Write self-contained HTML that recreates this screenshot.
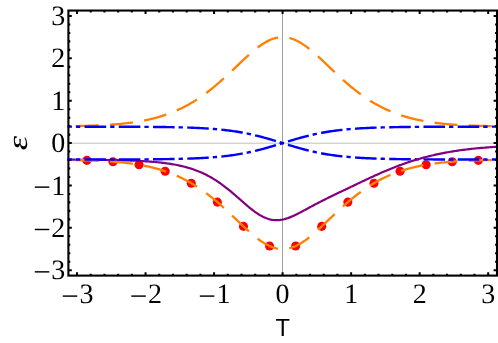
<!DOCTYPE html><html><head><meta charset="utf-8"><style>html,body{margin:0;padding:0;background:#fff;}body{width:498px;height:343px;overflow:hidden;position:relative;font-family:"Liberation Sans",sans-serif;}</style></head><body>
<svg width="498" height="343" viewBox="0 0 498 343" style="position:absolute;left:0;top:0">
<rect width="498" height="343" fill="#fff"/>
<clipPath id="c"><rect x="68.4" y="10.55" width="428.6" height="265.05"/></clipPath>
<g clip-path="url(#c)" fill="none">
<circle cx="269.55" cy="246.01" r="4.55" fill="#ff0000"/>
<circle cx="295.65" cy="246.01" r="4.55" fill="#ff0000"/>
<circle cx="243.46" cy="226.38" r="4.55" fill="#ff0000"/>
<circle cx="321.74" cy="226.38" r="4.55" fill="#ff0000"/>
<circle cx="217.36" cy="202.11" r="4.55" fill="#ff0000"/>
<circle cx="347.84" cy="202.11" r="4.55" fill="#ff0000"/>
<circle cx="191.26" cy="183.19" r="4.55" fill="#ff0000"/>
<circle cx="373.94" cy="183.19" r="4.55" fill="#ff0000"/>
<circle cx="165.17" cy="171.26" r="4.55" fill="#ff0000"/>
<circle cx="400.03" cy="171.26" r="4.55" fill="#ff0000"/>
<circle cx="139.07" cy="164.77" r="4.55" fill="#ff0000"/>
<circle cx="426.13" cy="164.77" r="4.55" fill="#ff0000"/>
<circle cx="112.97" cy="161.69" r="4.55" fill="#ff0000"/>
<circle cx="452.23" cy="161.69" r="4.55" fill="#ff0000"/>
<circle cx="86.88" cy="160.38" r="4.55" fill="#ff0000"/>
<circle cx="478.32" cy="160.38" r="4.55" fill="#ff0000"/>
<path d="M68.40,159.69 L69.69,159.70 L70.98,159.71 L72.27,159.71 L73.56,159.72 L74.86,159.72 L76.15,159.73 L77.44,159.74 L78.73,159.74 L80.02,159.75 L81.31,159.76 L82.60,159.77 L83.89,159.77 L85.18,159.78 L86.47,159.79 L87.77,159.80 L89.06,159.81 L90.35,159.82 L91.64,159.83 L92.93,159.84 L94.22,159.86 L95.51,159.87 L96.80,159.88 L98.09,159.90 L99.38,159.91 L100.68,159.92 L101.97,159.94 L103.26,159.96 L104.55,159.97 L105.84,159.99 L107.13,160.01 L108.42,160.03 L109.71,160.05 L111.00,160.07 L112.29,160.10 L113.59,160.12 L114.88,160.15 L116.17,160.17 L117.46,160.20 L118.75,160.23 L120.04,160.26 L121.33,160.29 L122.62,160.32 L123.91,160.36 L125.20,160.40 L126.50,160.44 L127.79,160.48 L129.08,160.52 L130.37,160.56 L131.66,160.61 L132.95,160.66 L134.24,160.71 L135.53,160.77 L136.82,160.82 L138.11,160.88 L139.41,160.95 L140.70,161.01 L141.99,161.08 L143.28,161.16 L144.57,161.23 L145.86,161.31 L147.15,161.40 L148.44,161.49 L149.73,161.58 L151.02,161.68 L152.32,161.78 L153.61,161.89 L154.90,162.00 L156.19,162.12 L157.48,162.24 L158.77,162.37 L160.06,162.51 L161.35,162.65 L162.64,162.80 L163.93,162.96 L165.23,163.13 L166.52,163.30 L167.81,163.48 L169.10,163.67 L170.39,163.87 L171.68,164.08 L172.97,164.30 L174.26,164.53 L175.55,164.76 L176.84,165.01 L178.14,165.28 L179.43,165.55 L180.72,165.84 L182.01,166.14 L183.30,166.45 L184.59,166.77 L185.88,167.12 L187.17,167.47 L188.46,167.84 L189.75,168.23 L191.05,168.64 L192.34,169.06 L193.63,169.50 L194.92,169.95 L196.21,170.43 L197.50,170.93 L198.79,171.44 L200.08,171.98 L201.37,172.54 L202.66,173.12 L203.96,173.72 L205.25,174.34 L206.54,174.98 L207.83,175.65 L209.12,176.35 L210.41,177.06 L211.70,177.80 L212.99,178.57 L214.28,179.35 L215.57,180.17 L216.87,181.00 L218.16,181.86 L219.45,182.75 L220.74,183.66 L222.03,184.59 L223.32,185.54 L224.61,186.52 L225.90,187.52 L227.19,188.54 L228.48,189.57 L229.78,190.63 L231.07,191.70 L232.36,192.79 L233.65,193.89 L234.94,195.00 L236.23,196.12 L237.52,197.25 L238.81,198.39 L240.10,199.52 L241.39,200.66 L242.69,201.79 L243.98,202.92 L245.27,204.04 L246.56,205.15 L247.85,206.24 L249.14,207.32 L250.43,208.37 L251.72,209.40 L253.01,210.39 L254.30,211.36 L255.60,212.29 L256.89,213.18 L258.18,214.03 L259.47,214.83 L260.76,215.59 L262.05,216.29 L263.34,216.95 L264.63,217.54 L265.92,218.08 L267.21,218.56 L268.51,218.98 L269.80,219.34 L271.09,219.63 L272.38,219.86 L273.67,220.03 L274.96,220.14 L276.25,220.18 L277.54,220.17 L278.83,220.09 L280.12,219.96 L281.42,219.77 L282.71,219.53 L284.00,219.24 L285.29,218.90 L286.58,218.51 L287.87,218.09 L289.16,217.62 L290.45,217.12 L291.74,216.58 L293.03,216.02 L294.33,215.43 L295.62,214.82 L296.91,214.18 L298.20,213.53 L299.49,212.87 L300.78,212.19 L302.07,211.51 L303.36,210.82 L304.65,210.12 L305.94,209.42 L307.24,208.72 L308.53,208.02 L309.82,207.32 L311.11,206.62 L312.40,205.93 L313.69,205.24 L314.98,204.55 L316.27,203.87 L317.56,203.20 L318.85,202.53 L320.15,201.86 L321.44,201.20 L322.73,200.55 L324.02,199.90 L325.31,199.26 L326.60,198.61 L327.89,197.98 L329.18,197.34 L330.47,196.72 L331.76,196.09 L333.06,195.46 L334.35,194.84 L335.64,194.22 L336.93,193.60 L338.22,192.98 L339.51,192.36 L340.80,191.75 L342.09,191.13 L343.38,190.51 L344.67,189.90 L345.97,189.28 L347.26,188.66 L348.55,188.05 L349.84,187.43 L351.13,186.81" stroke="#800080" stroke-width="2.2"/>
<path d="M68.40,159.97 L69.83,159.99 L71.27,160.01 L72.70,160.04 L74.13,160.07 L75.57,160.10 L77.00,160.13 L78.43,160.16 L79.87,160.19 L81.30,160.23 L82.73,160.26 L84.17,160.30 L85.60,160.34 L87.03,160.39 L88.47,160.43 L89.90,160.48 L91.34,160.53 L92.77,160.58 L94.20,160.64 L95.64,160.70 L97.07,160.76 L98.50,160.82 L99.94,160.89 L101.37,160.96 L102.80,161.04 L104.24,161.12 L105.67,161.20 L107.10,161.29 L108.54,161.38 L109.97,161.47 L111.40,161.58 L112.84,161.68 L114.27,161.79 L115.70,161.91 L117.14,162.03 L118.57,162.16 L120.00,162.29 L121.44,162.43 L122.87,162.58 L124.30,162.73 L125.74,162.89 L127.17,163.06 L128.60,163.23 L130.04,163.42 L131.47,163.61 L132.91,163.81 L134.34,164.02 L135.77,164.24 L137.21,164.46 L138.64,164.70 L140.07,164.95 L141.51,165.20 L142.94,165.47 L144.37,165.75 L145.81,166.04 L147.24,166.34 L148.67,166.66 L150.11,166.99 L151.54,167.33 L152.97,167.68 L154.41,168.05 L155.84,168.43 L157.27,168.82 L158.71,169.23 L160.14,169.65 L161.57,170.09 L163.01,170.55 L164.44,171.02 L165.87,171.50 L167.31,172.01 L168.74,172.53 L170.17,173.06 L171.61,173.62 L173.04,174.19 L174.47,174.79 L175.91,175.40 L177.34,176.03 L178.78,176.67 L180.21,177.34 L181.64,178.03 L183.08,178.74 L184.51,179.47 L185.94,180.22 L187.38,180.99 L188.81,181.78 L190.24,182.60 L191.68,183.43 L193.11,184.29 L194.54,185.17 L195.98,186.07 L197.41,186.99 L198.84,187.94 L200.28,188.90 L201.71,189.89 L203.14,190.91 L204.58,191.94 L206.01,193.00 L207.44,194.08 L208.88,195.18 L210.31,196.30 L211.74,197.44 L213.18,198.60 L214.61,199.79 L216.04,200.99 L217.48,202.21 L218.91,203.45 L220.35,204.71 L221.78,205.99 L223.21,207.28 L224.65,208.58 L226.08,209.90 L227.51,211.23 L228.95,212.57 L230.38,213.92 L231.81,215.28 L233.25,216.65 L234.68,218.02 L236.11,219.39 L237.55,220.77 L238.98,222.14 L240.41,223.50 L241.85,224.87 L243.28,226.22 L244.71,227.56 L246.15,228.89 L247.58,230.20 L249.01,231.49 L250.45,232.75 L251.88,234.00 L253.31,235.21 L254.75,236.39 L256.18,237.54 L257.61,238.65 L259.05,239.71 L260.48,240.74 L261.92,241.72 L263.35,242.64 L264.78,243.52 L266.22,244.33 L267.65,245.09 L269.08,245.79 L270.52,246.43 L271.95,247.00 L273.38,247.50 L274.82,247.93 L276.25,248.30 L277.68,248.59 L279.12,248.80 L280.55,248.95 L281.98,249.02 L283.42,249.01 L284.85,248.93 L286.28,248.78 L287.72,248.55 L289.15,248.25 L290.58,247.88 L292.02,247.43 L293.45,246.92 L294.88,246.34 L296.32,245.70 L297.75,244.99 L299.18,244.22 L300.62,243.40 L302.05,242.52 L303.48,241.58 L304.92,240.60 L306.35,239.57 L307.79,238.49 L309.22,237.38 L310.65,236.23 L312.09,235.04 L313.52,233.82 L314.95,232.58 L316.39,231.31 L317.82,230.01 L319.25,228.70 L320.69,227.37 L322.12,226.03 L323.55,224.68 L324.99,223.31 L326.42,221.95 L327.85,220.57 L329.29,219.20 L330.72,217.83 L332.15,216.46 L333.59,215.09 L335.02,213.74 L336.45,212.39 L337.89,211.05 L339.32,209.72 L340.75,208.40 L342.19,207.10 L343.62,205.81 L345.05,204.53 L346.49,203.28 L347.92,202.04 L349.36,200.82 L350.79,199.62 L352.22,198.44 L353.66,197.28 L355.09,196.14 L356.52,195.02 L357.96,193.93 L359.39,192.85 L360.82,191.80 L362.26,190.76 L363.69,189.76 L365.12,188.77 L366.56,187.80 L367.99,186.86 L369.42,185.94 L370.86,185.04 L372.29,184.17 L373.72,183.31 L375.16,182.48 L376.59,181.67 L378.02,180.88 L379.46,180.11 L380.89,179.37 L382.32,178.64 L383.76,177.93 L385.19,177.25 L386.62,176.58 L388.06,175.94 L389.49,175.31 L390.93,174.70 L392.36,174.11 L393.79,173.54 L395.23,172.99 L396.66,172.45 L398.09,171.93 L399.53,171.43 L400.96,170.95 L402.39,170.48 L403.83,170.03 L405.26,169.59 L406.69,169.17 L408.13,168.76 L409.56,168.37 L410.99,167.99 L412.43,167.63 L413.86,167.28 L415.29,166.94 L416.73,166.61 L418.16,166.30 L419.59,166.00 L421.03,165.71 L422.46,165.43 L423.89,165.17 L425.33,164.91 L426.76,164.67 L428.19,164.43 L429.63,164.20 L431.06,163.99 L432.49,163.78 L433.93,163.58 L435.36,163.39 L436.80,163.21 L438.23,163.03 L439.66,162.87 L441.10,162.71 L442.53,162.56 L443.96,162.41 L445.40,162.27 L446.83,162.14 L448.26,162.01 L449.70,161.89 L451.13,161.78 L452.56,161.67 L454.00,161.56 L455.43,161.46 L456.86,161.37 L458.30,161.28 L459.73,161.19 L461.16,161.11 L462.60,161.03 L464.03,160.95 L465.46,160.88 L466.90,160.81 L468.33,160.75 L469.76,160.69 L471.20,160.63 L472.63,160.58 L474.06,160.52 L475.50,160.47 L476.93,160.43 L478.37,160.38 L479.80,160.34 L481.23,160.30 L482.67,160.26 L484.10,160.22 L485.53,160.19 L486.97,160.15 L488.40,160.12 L489.83,160.09 L491.27,160.06 L492.70,160.04 L494.13,160.01 L495.57,159.99 L497.00,159.96" stroke="#ff8000" stroke-width="2.3" stroke-dasharray="23.0 11.32" stroke-dashoffset="27.0"/>
<path d="M68.40,126.23 L69.83,126.21 L71.27,126.19 L72.70,126.16 L74.13,126.13 L75.57,126.10 L77.00,126.07 L78.43,126.04 L79.87,126.01 L81.30,125.97 L82.73,125.94 L84.17,125.90 L85.60,125.86 L87.03,125.81 L88.47,125.77 L89.90,125.72 L91.34,125.67 L92.77,125.62 L94.20,125.56 L95.64,125.50 L97.07,125.44 L98.50,125.38 L99.94,125.31 L101.37,125.24 L102.80,125.16 L104.24,125.08 L105.67,125.00 L107.10,124.91 L108.54,124.82 L109.97,124.73 L111.40,124.62 L112.84,124.52 L114.27,124.41 L115.70,124.29 L117.14,124.17 L118.57,124.04 L120.00,123.91 L121.44,123.77 L122.87,123.62 L124.30,123.47 L125.74,123.31 L127.17,123.14 L128.60,122.97 L130.04,122.78 L131.47,122.59 L132.91,122.39 L134.34,122.18 L135.77,121.96 L137.21,121.74 L138.64,121.50 L140.07,121.25 L141.51,121.00 L142.94,120.73 L144.37,120.45 L145.81,120.16 L147.24,119.86 L148.67,119.54 L150.11,119.21 L151.54,118.87 L152.97,118.52 L154.41,118.15 L155.84,117.77 L157.27,117.38 L158.71,116.97 L160.14,116.55 L161.57,116.11 L163.01,115.65 L164.44,115.18 L165.87,114.70 L167.31,114.19 L168.74,113.67 L170.17,113.14 L171.61,112.58 L173.04,112.01 L174.47,111.41 L175.91,110.80 L177.34,110.17 L178.78,109.53 L180.21,108.86 L181.64,108.17 L183.08,107.46 L184.51,106.73 L185.94,105.98 L187.38,105.21 L188.81,104.42 L190.24,103.60 L191.68,102.77 L193.11,101.91 L194.54,101.03 L195.98,100.13 L197.41,99.21 L198.84,98.26 L200.28,97.30 L201.71,96.31 L203.14,95.29 L204.58,94.26 L206.01,93.20 L207.44,92.12 L208.88,91.02 L210.31,89.90 L211.74,88.76 L213.18,87.60 L214.61,86.41 L216.04,85.21 L217.48,83.99 L218.91,82.75 L220.35,81.49 L221.78,80.21 L223.21,78.92 L224.65,77.62 L226.08,76.30 L227.51,74.97 L228.95,73.63 L230.38,72.28 L231.81,70.92 L233.25,69.55 L234.68,68.18 L236.11,66.81 L237.55,65.43 L238.98,64.06 L240.41,62.70 L241.85,61.33 L243.28,59.98 L244.71,58.64 L246.15,57.31 L247.58,56.00 L249.01,54.71 L250.45,53.45 L251.88,52.20 L253.31,50.99 L254.75,49.81 L256.18,48.66 L257.61,47.55 L259.05,46.49 L260.48,45.46 L261.92,44.48 L263.35,43.56 L264.78,42.68 L266.22,41.87 L267.65,41.11 L269.08,40.41 L270.52,39.77 L271.95,39.20 L273.38,38.70 L274.82,38.27 L276.25,37.90 L277.68,37.61 L279.12,37.40 L280.55,37.25 L281.98,37.18 L283.42,37.19 L284.85,37.27 L286.28,37.42 L287.72,37.65 L289.15,37.95 L290.58,38.32 L292.02,38.77 L293.45,39.28 L294.88,39.86 L296.32,40.50 L297.75,41.21 L299.18,41.98 L300.62,42.80 L302.05,43.68 L303.48,44.62 L304.92,45.60 L306.35,46.63 L307.79,47.71 L309.22,48.82 L310.65,49.97 L312.09,51.16 L313.52,52.38 L314.95,53.62 L316.39,54.89 L317.82,56.19 L319.25,57.50 L320.69,58.83 L322.12,60.17 L323.55,61.52 L324.99,62.89 L326.42,64.25 L327.85,65.63 L329.29,67.00 L330.72,68.37 L332.15,69.74 L333.59,71.11 L335.02,72.46 L336.45,73.81 L337.89,75.15 L339.32,76.48 L340.75,77.80 L342.19,79.10 L343.62,80.39 L345.05,81.67 L346.49,82.92 L347.92,84.16 L349.36,85.38 L350.79,86.58 L352.22,87.76 L353.66,88.92 L355.09,90.06 L356.52,91.18 L357.96,92.27 L359.39,93.35 L360.82,94.40 L362.26,95.44 L363.69,96.44 L365.12,97.43 L366.56,98.40 L367.99,99.34 L369.42,100.26 L370.86,101.16 L372.29,102.03 L373.72,102.89 L375.16,103.72 L376.59,104.53 L378.02,105.32 L379.46,106.09 L380.89,106.83 L382.32,107.56 L383.76,108.27 L385.19,108.95 L386.62,109.62 L388.06,110.26 L389.49,110.89 L390.93,111.50 L392.36,112.09 L393.79,112.66 L395.23,113.21 L396.66,113.75 L398.09,114.27 L399.53,114.77 L400.96,115.25 L402.39,115.72 L403.83,116.17 L405.26,116.61 L406.69,117.03 L408.13,117.44 L409.56,117.83 L410.99,118.21 L412.43,118.57 L413.86,118.92 L415.29,119.26 L416.73,119.59 L418.16,119.90 L419.59,120.20 L421.03,120.49 L422.46,120.77 L423.89,121.03 L425.33,121.29 L426.76,121.53 L428.19,121.77 L429.63,122.00 L431.06,122.21 L432.49,122.42 L433.93,122.62 L435.36,122.81 L436.80,122.99 L438.23,123.17 L439.66,123.33 L441.10,123.49 L442.53,123.64 L443.96,123.79 L445.40,123.93 L446.83,124.06 L448.26,124.19 L449.70,124.31 L451.13,124.42 L452.56,124.53 L454.00,124.64 L455.43,124.74 L456.86,124.83 L458.30,124.92 L459.73,125.01 L461.16,125.09 L462.60,125.17 L464.03,125.25 L465.46,125.32 L466.90,125.39 L468.33,125.45 L469.76,125.51 L471.20,125.57 L472.63,125.62 L474.06,125.68 L475.50,125.73 L476.93,125.77 L478.37,125.82 L479.80,125.86 L481.23,125.90 L482.67,125.94 L484.10,125.98 L485.53,126.01 L486.97,126.05 L488.40,126.08 L489.83,126.11 L491.27,126.14 L492.70,126.16 L494.13,126.19 L495.57,126.21 L497.00,126.24" stroke="#ff8000" stroke-width="2.3" stroke-dasharray="23.0 11.32" stroke-dashoffset="27.0"/>
<path d="M68.40,159.53 L69.83,159.53 L71.27,159.53 L72.70,159.53 L74.13,159.53 L75.57,159.53 L77.00,159.52 L78.43,159.52 L79.87,159.52 L81.30,159.52 L82.73,159.52 L84.17,159.52 L85.60,159.52 L87.03,159.52 L88.47,159.52 L89.90,159.52 L91.34,159.51 L92.77,159.51 L94.20,159.51 L95.64,159.51 L97.07,159.51 L98.50,159.51 L99.94,159.50 L101.37,159.50 L102.80,159.50 L104.24,159.50 L105.67,159.50 L107.10,159.49 L108.54,159.49 L109.97,159.49 L111.40,159.49 L112.84,159.48 L114.27,159.48 L115.70,159.48 L117.14,159.47 L118.57,159.47 L120.00,159.47 L121.44,159.46 L122.87,159.46 L124.30,159.45 L125.74,159.45 L127.17,159.44 L128.60,159.44 L130.04,159.43 L131.47,159.43 L132.91,159.42 L134.34,159.41 L135.77,159.41 L137.21,159.40 L138.64,159.39 L140.07,159.38 L141.51,159.37 L142.94,159.37 L144.37,159.36 L145.81,159.35 L147.24,159.34 L148.67,159.32 L150.11,159.31 L151.54,159.30 L152.97,159.29 L154.41,159.27 L155.84,159.26 L157.27,159.24 L158.71,159.23 L160.14,159.21 L161.57,159.19 L163.01,159.17 L164.44,159.15 L165.87,159.13 L167.31,159.11 L168.74,159.09 L170.17,159.06 L171.61,159.04 L173.04,159.01 L174.47,158.98 L175.91,158.95 L177.34,158.92 L178.78,158.88 L180.21,158.85 L181.64,158.81 L183.08,158.77 L184.51,158.73 L185.94,158.69 L187.38,158.64 L188.81,158.59 L190.24,158.54 L191.68,158.49 L193.11,158.43 L194.54,158.37 L195.98,158.31 L197.41,158.25 L198.84,158.18 L200.28,158.10 L201.71,158.03 L203.14,157.95 L204.58,157.87 L206.01,157.78 L207.44,157.69 L208.88,157.59 L210.31,157.49 L211.74,157.38 L213.18,157.27 L214.61,157.16 L216.04,157.04 L217.48,156.91 L218.91,156.78 L220.35,156.64 L221.78,156.49 L223.21,156.34 L224.65,156.18 L226.08,156.01 L227.51,155.84 L228.95,155.66 L230.38,155.47 L231.81,155.28 L233.25,155.08 L234.68,154.86 L236.11,154.64 L237.55,154.42 L238.98,154.18 L240.41,153.93 L241.85,153.68 L243.28,153.42 L244.71,153.14 L246.15,152.86 L247.58,152.57 L249.01,152.27 L250.45,151.96 L251.88,151.64 L253.31,151.32 L254.75,150.98 L256.18,150.64 L257.61,150.28 L259.05,149.92 L260.48,149.55 L261.92,149.17 L263.35,148.79 L264.78,148.40 L266.22,148.00 L267.65,147.59 L269.08,147.18 L270.52,146.76 L271.95,146.34 L273.38,145.91 L274.82,145.48 L276.25,145.05 L277.68,144.61 L279.12,144.17 L280.55,143.73 L281.98,143.29 L283.42,142.85 L284.85,142.41 L286.28,141.97 L287.72,141.53 L289.15,141.09 L290.58,140.66 L292.02,140.23 L293.45,139.80 L294.88,139.38 L296.32,138.96 L297.75,138.55 L299.18,138.15 L300.62,137.75 L302.05,137.36 L303.48,136.97 L304.92,136.60 L306.35,136.23 L307.79,135.87 L309.22,135.51 L310.65,135.17 L312.09,134.84 L313.52,134.51 L314.95,134.19 L316.39,133.89 L317.82,133.59 L319.25,133.30 L320.69,133.02 L322.12,132.75 L323.55,132.48 L324.99,132.23 L326.42,131.99 L327.85,131.75 L329.29,131.52 L330.72,131.31 L332.15,131.10 L333.59,130.89 L335.02,130.70 L336.45,130.51 L337.89,130.33 L339.32,130.16 L340.75,130.00 L342.19,129.84 L343.62,129.69 L345.05,129.54 L346.49,129.41 L347.92,129.27 L349.36,129.15 L350.79,129.03 L352.22,128.91 L353.66,128.80 L355.09,128.70 L356.52,128.60 L357.96,128.50 L359.39,128.41 L360.82,128.32 L362.26,128.24 L363.69,128.16 L365.12,128.08 L366.56,128.01 L367.99,127.95 L369.42,127.88 L370.86,127.82 L372.29,127.76 L373.72,127.70 L375.16,127.65 L376.59,127.60 L378.02,127.55 L379.46,127.51 L380.89,127.46 L382.32,127.42 L383.76,127.38 L385.19,127.35 L386.62,127.31 L388.06,127.28 L389.49,127.25 L390.93,127.22 L392.36,127.19 L393.79,127.16 L395.23,127.14 L396.66,127.11 L398.09,127.09 L399.53,127.07 L400.96,127.04 L402.39,127.02 L403.83,127.01 L405.26,126.99 L406.69,126.97 L408.13,126.95 L409.56,126.94 L410.99,126.92 L412.43,126.91 L413.86,126.90 L415.29,126.89 L416.73,126.87 L418.16,126.86 L419.59,126.85 L421.03,126.84 L422.46,126.83 L423.89,126.82 L425.33,126.82 L426.76,126.81 L428.19,126.80 L429.63,126.79 L431.06,126.79 L432.49,126.78 L433.93,126.77 L435.36,126.77 L436.80,126.76 L438.23,126.76 L439.66,126.75 L441.10,126.75 L442.53,126.74 L443.96,126.74 L445.40,126.73 L446.83,126.73 L448.26,126.73 L449.70,126.72 L451.13,126.72 L452.56,126.72 L454.00,126.71 L455.43,126.71 L456.86,126.71 L458.30,126.71 L459.73,126.70 L461.16,126.70 L462.60,126.70 L464.03,126.70 L465.46,126.69 L466.90,126.69 L468.33,126.69 L469.76,126.69 L471.20,126.69 L472.63,126.69 L474.06,126.69 L475.50,126.68 L476.93,126.68 L478.37,126.68 L479.80,126.68 L481.23,126.68 L482.67,126.68 L484.10,126.68 L485.53,126.68 L486.97,126.68 L488.40,126.68 L489.83,126.67 L491.27,126.67 L492.70,126.67 L494.13,126.67 L495.57,126.67 L497.00,126.67" stroke="#0000ff" stroke-width="2.4" stroke-dasharray="21.6 4.0 4.3 4.32" stroke-dashoffset="18.05"/>
<path d="M68.40,126.67 L69.83,126.67 L71.27,126.67 L72.70,126.67 L74.13,126.67 L75.57,126.67 L77.00,126.68 L78.43,126.68 L79.87,126.68 L81.30,126.68 L82.73,126.68 L84.17,126.68 L85.60,126.68 L87.03,126.68 L88.47,126.68 L89.90,126.68 L91.34,126.69 L92.77,126.69 L94.20,126.69 L95.64,126.69 L97.07,126.69 L98.50,126.69 L99.94,126.70 L101.37,126.70 L102.80,126.70 L104.24,126.70 L105.67,126.70 L107.10,126.71 L108.54,126.71 L109.97,126.71 L111.40,126.71 L112.84,126.72 L114.27,126.72 L115.70,126.72 L117.14,126.73 L118.57,126.73 L120.00,126.73 L121.44,126.74 L122.87,126.74 L124.30,126.75 L125.74,126.75 L127.17,126.76 L128.60,126.76 L130.04,126.77 L131.47,126.77 L132.91,126.78 L134.34,126.79 L135.77,126.79 L137.21,126.80 L138.64,126.81 L140.07,126.82 L141.51,126.83 L142.94,126.83 L144.37,126.84 L145.81,126.85 L147.24,126.86 L148.67,126.88 L150.11,126.89 L151.54,126.90 L152.97,126.91 L154.41,126.93 L155.84,126.94 L157.27,126.96 L158.71,126.97 L160.14,126.99 L161.57,127.01 L163.01,127.03 L164.44,127.05 L165.87,127.07 L167.31,127.09 L168.74,127.11 L170.17,127.14 L171.61,127.16 L173.04,127.19 L174.47,127.22 L175.91,127.25 L177.34,127.28 L178.78,127.32 L180.21,127.35 L181.64,127.39 L183.08,127.43 L184.51,127.47 L185.94,127.51 L187.38,127.56 L188.81,127.61 L190.24,127.66 L191.68,127.71 L193.11,127.77 L194.54,127.83 L195.98,127.89 L197.41,127.95 L198.84,128.02 L200.28,128.10 L201.71,128.17 L203.14,128.25 L204.58,128.33 L206.01,128.42 L207.44,128.51 L208.88,128.61 L210.31,128.71 L211.74,128.82 L213.18,128.93 L214.61,129.04 L216.04,129.16 L217.48,129.29 L218.91,129.42 L220.35,129.56 L221.78,129.71 L223.21,129.86 L224.65,130.02 L226.08,130.19 L227.51,130.36 L228.95,130.54 L230.38,130.73 L231.81,130.92 L233.25,131.12 L234.68,131.34 L236.11,131.56 L237.55,131.78 L238.98,132.02 L240.41,132.27 L241.85,132.52 L243.28,132.78 L244.71,133.06 L246.15,133.34 L247.58,133.63 L249.01,133.93 L250.45,134.24 L251.88,134.56 L253.31,134.88 L254.75,135.22 L256.18,135.56 L257.61,135.92 L259.05,136.28 L260.48,136.65 L261.92,137.03 L263.35,137.41 L264.78,137.80 L266.22,138.20 L267.65,138.61 L269.08,139.02 L270.52,139.44 L271.95,139.86 L273.38,140.29 L274.82,140.72 L276.25,141.15 L277.68,141.59 L279.12,142.03 L280.55,142.47 L281.98,142.91 L283.42,143.35 L284.85,143.79 L286.28,144.23 L287.72,144.67 L289.15,145.11 L290.58,145.54 L292.02,145.97 L293.45,146.40 L294.88,146.82 L296.32,147.24 L297.75,147.65 L299.18,148.05 L300.62,148.45 L302.05,148.84 L303.48,149.23 L304.92,149.60 L306.35,149.97 L307.79,150.33 L309.22,150.69 L310.65,151.03 L312.09,151.36 L313.52,151.69 L314.95,152.01 L316.39,152.31 L317.82,152.61 L319.25,152.90 L320.69,153.18 L322.12,153.45 L323.55,153.72 L324.99,153.97 L326.42,154.21 L327.85,154.45 L329.29,154.68 L330.72,154.89 L332.15,155.10 L333.59,155.31 L335.02,155.50 L336.45,155.69 L337.89,155.87 L339.32,156.04 L340.75,156.20 L342.19,156.36 L343.62,156.51 L345.05,156.66 L346.49,156.79 L347.92,156.93 L349.36,157.05 L350.79,157.17 L352.22,157.29 L353.66,157.40 L355.09,157.50 L356.52,157.60 L357.96,157.70 L359.39,157.79 L360.82,157.88 L362.26,157.96 L363.69,158.04 L365.12,158.12 L366.56,158.19 L367.99,158.25 L369.42,158.32 L370.86,158.38 L372.29,158.44 L373.72,158.50 L375.16,158.55 L376.59,158.60 L378.02,158.65 L379.46,158.69 L380.89,158.74 L382.32,158.78 L383.76,158.82 L385.19,158.85 L386.62,158.89 L388.06,158.92 L389.49,158.95 L390.93,158.98 L392.36,159.01 L393.79,159.04 L395.23,159.06 L396.66,159.09 L398.09,159.11 L399.53,159.13 L400.96,159.16 L402.39,159.18 L403.83,159.19 L405.26,159.21 L406.69,159.23 L408.13,159.25 L409.56,159.26 L410.99,159.28 L412.43,159.29 L413.86,159.30 L415.29,159.31 L416.73,159.33 L418.16,159.34 L419.59,159.35 L421.03,159.36 L422.46,159.37 L423.89,159.38 L425.33,159.38 L426.76,159.39 L428.19,159.40 L429.63,159.41 L431.06,159.41 L432.49,159.42 L433.93,159.43 L435.36,159.43 L436.80,159.44 L438.23,159.44 L439.66,159.45 L441.10,159.45 L442.53,159.46 L443.96,159.46 L445.40,159.47 L446.83,159.47 L448.26,159.47 L449.70,159.48 L451.13,159.48 L452.56,159.48 L454.00,159.49 L455.43,159.49 L456.86,159.49 L458.30,159.49 L459.73,159.50 L461.16,159.50 L462.60,159.50 L464.03,159.50 L465.46,159.51 L466.90,159.51 L468.33,159.51 L469.76,159.51 L471.20,159.51 L472.63,159.51 L474.06,159.51 L475.50,159.52 L476.93,159.52 L478.37,159.52 L479.80,159.52 L481.23,159.52 L482.67,159.52 L484.10,159.52 L485.53,159.52 L486.97,159.52 L488.40,159.52 L489.83,159.53 L491.27,159.53 L492.70,159.53 L494.13,159.53 L495.57,159.53 L497.00,159.53" stroke="#0000ff" stroke-width="2.4" stroke-dasharray="21.6 4.0 4.3 4.32" stroke-dashoffset="18.05"/>
<path d="M351.13,186.81 L352.36,186.23 L353.58,185.64 L354.81,185.05 L356.03,184.47 L357.26,183.88 L358.48,183.30 L359.71,182.72 L360.94,182.13 L362.16,181.55 L363.39,180.97 L364.61,180.39 L365.84,179.82 L367.07,179.24 L368.29,178.67 L369.52,178.10 L370.74,177.53 L371.97,176.96 L373.19,176.40 L374.42,175.84 L375.65,175.28 L376.87,174.73 L378.10,174.18 L379.32,173.64 L380.55,173.10 L381.77,172.56 L383.00,172.03 L384.23,171.50 L385.45,170.98 L386.68,170.46 L387.90,169.95 L389.13,169.44 L390.36,168.94 L391.58,168.44 L392.81,167.95 L394.03,167.46 L395.26,166.98 L396.48,166.51 L397.71,166.04 L398.94,165.58 L400.16,165.12 L401.39,164.67 L402.61,164.23 L403.84,163.79 L405.07,163.36 L406.29,162.94 L407.52,162.52 L408.74,162.11 L409.97,161.70 L411.19,161.30 L412.42,160.91 L413.65,160.53 L414.87,160.15 L416.10,159.77 L417.32,159.41 L418.55,159.05 L419.77,158.69 L421.00,158.34 L422.23,158.00 L423.45,157.67 L424.68,157.34 L425.90,157.02 L427.13,156.70 L428.36,156.39 L429.58,156.09 L430.81,155.79 L432.03,155.50 L433.26,155.21 L434.48,154.93 L435.71,154.65 L436.94,154.39 L438.16,154.12 L439.39,153.87 L440.61,153.61 L441.84,153.37 L443.06,153.13 L444.29,152.89 L445.52,152.66 L446.74,152.43 L447.97,152.21 L449.19,152.00 L450.42,151.79 L451.65,151.58 L452.87,151.38 L454.10,151.19 L455.32,151.00 L456.55,150.81 L457.77,150.63 L459.00,150.45 L460.23,150.28 L461.45,150.11 L462.68,149.95 L463.90,149.79 L465.13,149.63 L466.36,149.48 L467.58,149.33 L468.81,149.18 L470.03,149.04 L471.26,148.91 L472.48,148.77 L473.71,148.65 L474.94,148.52 L476.16,148.40 L477.39,148.28 L478.61,148.16 L479.84,148.05 L481.06,147.94 L482.29,147.84 L483.52,147.73 L484.74,147.63 L485.97,147.54 L487.19,147.44 L488.42,147.35 L489.65,147.26 L490.87,147.17 L492.10,147.09 L493.32,147.01 L494.55,146.93 L495.77,146.86 L497.00,146.78" stroke="#800080" stroke-width="2.2"/>
<line x1="68.4" x2="497.0" y1="143.2" y2="143.2" stroke="#000" stroke-opacity="0.26" stroke-width="1"/>
<line x1="282.5" x2="282.5" y1="10.55" y2="275.6" stroke="#000" stroke-opacity="0.37" stroke-width="1.05"/>
</g>
<rect x="68.4" y="10.55" width="428.6" height="265.05" fill="none" stroke="#000" stroke-width="2.1"/>
<path d="M67.3,126.67 h2 M67.3,159.53 h2" stroke="#0000c8" stroke-width="2.4" fill="none"/>
<path d="M77.01,275.6 v-3.4 M77.01,10.55 v3.4 M68.4,270.21 h3.4 M497.0,270.21 h-3.4" stroke="#000" stroke-width="2.0"/>
<path d="M90.72,275.6 v-1.9 M90.72,10.55 v1.9 M68.4,261.74 h1.9 M497.0,261.74 h-1.9" stroke="#000" stroke-width="2.1"/>
<path d="M104.42,275.6 v-1.9 M104.42,10.55 v1.9 M68.4,253.26 h1.9 M497.0,253.26 h-1.9" stroke="#000" stroke-width="2.1"/>
<path d="M118.13,275.6 v-1.9 M118.13,10.55 v1.9 M68.4,244.79 h1.9 M497.0,244.79 h-1.9" stroke="#000" stroke-width="2.1"/>
<path d="M131.83,275.6 v-1.9 M131.83,10.55 v1.9 M68.4,236.31 h1.9 M497.0,236.31 h-1.9" stroke="#000" stroke-width="2.1"/>
<path d="M145.54,275.6 v-3.4 M145.54,10.55 v3.4 M68.4,227.84 h3.4 M497.0,227.84 h-3.4" stroke="#000" stroke-width="2.0"/>
<path d="M159.25,275.6 v-1.9 M159.25,10.55 v1.9 M68.4,219.37 h1.9 M497.0,219.37 h-1.9" stroke="#000" stroke-width="2.1"/>
<path d="M172.95,275.6 v-1.9 M172.95,10.55 v1.9 M68.4,210.89 h1.9 M497.0,210.89 h-1.9" stroke="#000" stroke-width="2.1"/>
<path d="M186.66,275.6 v-1.9 M186.66,10.55 v1.9 M68.4,202.42 h1.9 M497.0,202.42 h-1.9" stroke="#000" stroke-width="2.1"/>
<path d="M200.36,275.6 v-1.9 M200.36,10.55 v1.9 M68.4,193.94 h1.9 M497.0,193.94 h-1.9" stroke="#000" stroke-width="2.1"/>
<path d="M214.07,275.6 v-3.4 M214.07,10.55 v3.4 M68.4,185.47 h3.4 M497.0,185.47 h-3.4" stroke="#000" stroke-width="2.0"/>
<path d="M227.78,275.6 v-1.9 M227.78,10.55 v1.9 M68.4,177.00 h1.9 M497.0,177.00 h-1.9" stroke="#000" stroke-width="2.1"/>
<path d="M241.48,275.6 v-1.9 M241.48,10.55 v1.9 M68.4,168.52 h1.9 M497.0,168.52 h-1.9" stroke="#000" stroke-width="2.1"/>
<path d="M255.19,275.6 v-1.9 M255.19,10.55 v1.9 M68.4,160.05 h1.9 M497.0,160.05 h-1.9" stroke="#000" stroke-width="2.1"/>
<path d="M268.89,275.6 v-1.9 M268.89,10.55 v1.9 M68.4,151.57 h1.9 M497.0,151.57 h-1.9" stroke="#000" stroke-width="2.1"/>
<path d="M282.60,275.6 v-3.4 M282.60,10.55 v3.4 M68.4,143.10 h3.4 M497.0,143.10 h-3.4" stroke="#000" stroke-width="2.0"/>
<path d="M296.31,275.6 v-1.9 M296.31,10.55 v1.9 M68.4,134.63 h1.9 M497.0,134.63 h-1.9" stroke="#000" stroke-width="2.1"/>
<path d="M310.01,275.6 v-1.9 M310.01,10.55 v1.9 M68.4,126.15 h1.9 M497.0,126.15 h-1.9" stroke="#000" stroke-width="2.1"/>
<path d="M323.72,275.6 v-1.9 M323.72,10.55 v1.9 M68.4,117.68 h1.9 M497.0,117.68 h-1.9" stroke="#000" stroke-width="2.1"/>
<path d="M337.42,275.6 v-1.9 M337.42,10.55 v1.9 M68.4,109.20 h1.9 M497.0,109.20 h-1.9" stroke="#000" stroke-width="2.1"/>
<path d="M351.13,275.6 v-3.4 M351.13,10.55 v3.4 M68.4,100.73 h3.4 M497.0,100.73 h-3.4" stroke="#000" stroke-width="2.0"/>
<path d="M364.84,275.6 v-1.9 M364.84,10.55 v1.9 M68.4,92.26 h1.9 M497.0,92.26 h-1.9" stroke="#000" stroke-width="2.1"/>
<path d="M378.54,275.6 v-1.9 M378.54,10.55 v1.9 M68.4,83.78 h1.9 M497.0,83.78 h-1.9" stroke="#000" stroke-width="2.1"/>
<path d="M392.25,275.6 v-1.9 M392.25,10.55 v1.9 M68.4,75.31 h1.9 M497.0,75.31 h-1.9" stroke="#000" stroke-width="2.1"/>
<path d="M405.95,275.6 v-1.9 M405.95,10.55 v1.9 M68.4,66.83 h1.9 M497.0,66.83 h-1.9" stroke="#000" stroke-width="2.1"/>
<path d="M419.66,275.6 v-3.4 M419.66,10.55 v3.4 M68.4,58.36 h3.4 M497.0,58.36 h-3.4" stroke="#000" stroke-width="2.0"/>
<path d="M433.37,275.6 v-1.9 M433.37,10.55 v1.9 M68.4,49.89 h1.9 M497.0,49.89 h-1.9" stroke="#000" stroke-width="2.1"/>
<path d="M447.07,275.6 v-1.9 M447.07,10.55 v1.9 M68.4,41.41 h1.9 M497.0,41.41 h-1.9" stroke="#000" stroke-width="2.1"/>
<path d="M460.78,275.6 v-1.9 M460.78,10.55 v1.9 M68.4,32.94 h1.9 M497.0,32.94 h-1.9" stroke="#000" stroke-width="2.1"/>
<path d="M474.48,275.6 v-1.9 M474.48,10.55 v1.9 M68.4,24.46 h1.9 M497.0,24.46 h-1.9" stroke="#000" stroke-width="2.1"/>
<path d="M488.19,275.6 v-3.4 M488.19,10.55 v3.4 M68.4,15.99 h3.4 M497.0,15.99 h-3.4" stroke="#000" stroke-width="2.0"/>
<g style="text-rendering:geometricPrecision;filter:grayscale(1)">
<line x1="34.80" x2="49.30" y1="271.86" y2="271.86" stroke="#000" stroke-width="1.45"/><text x="51.30" y="278.91" font-family="Liberation Serif" font-size="28">3</text>
<line x1="62.76" x2="77.26" y1="296.10" y2="296.10" stroke="#000" stroke-width="1.45"/><text x="79.56" y="303.05" font-family="Liberation Serif" font-size="28">3</text>
<line x1="34.80" x2="49.30" y1="229.49" y2="229.49" stroke="#000" stroke-width="1.45"/><text x="51.30" y="236.54" font-family="Liberation Serif" font-size="28">2</text>
<line x1="131.29" x2="145.79" y1="296.10" y2="296.10" stroke="#000" stroke-width="1.45"/><text x="148.09" y="303.05" font-family="Liberation Serif" font-size="28">2</text>
<line x1="34.80" x2="49.30" y1="187.12" y2="187.12" stroke="#000" stroke-width="1.45"/><text x="51.30" y="194.87" font-family="Liberation Serif" font-size="28">1</text>
<line x1="199.82" x2="214.32" y1="296.10" y2="296.10" stroke="#000" stroke-width="1.45"/><text x="216.62" y="303.05" font-family="Liberation Serif" font-size="28">1</text>
<text x="51.30" y="152.20" font-family="Liberation Serif" font-size="28">0</text>
<text x="275.60" y="303.05" font-family="Liberation Serif" font-size="28">0</text>
<text x="51.30" y="110.13" font-family="Liberation Serif" font-size="28">1</text>
<text x="344.13" y="303.05" font-family="Liberation Serif" font-size="28">1</text>
<text x="51.30" y="67.06" font-family="Liberation Serif" font-size="28">2</text>
<text x="412.66" y="303.05" font-family="Liberation Serif" font-size="28">2</text>
<text x="51.30" y="24.69" font-family="Liberation Serif" font-size="28">3</text>
<text x="481.19" y="303.05" font-family="Liberation Serif" font-size="28">3</text>
<text transform="translate(282.75,335.8) scale(1,1.05)" text-anchor="middle" font-family="Liberation Sans" font-size="23.7">T</text>
<text transform="translate(27,143) rotate(-90) scale(1.3,1)" text-anchor="middle" font-family="Liberation Serif" font-style="italic" font-size="28">ε</text>
</g>
</svg>
</body></html>
